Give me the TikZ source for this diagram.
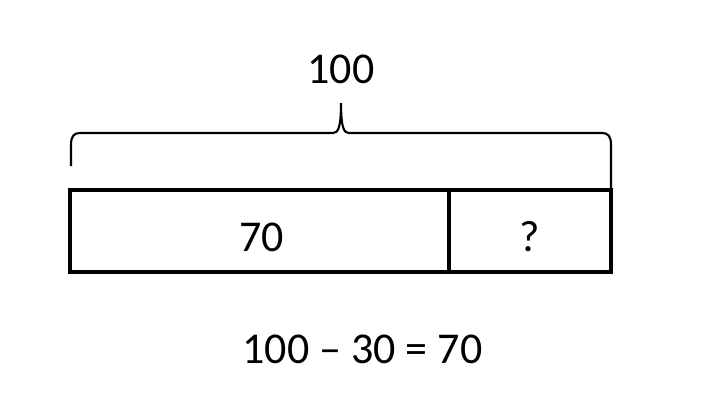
\documentclass[tikz,border=0pt]{standalone}
\usepackage{fontspec}
\setmainfont{Carlito}
\usetikzlibrary{positioning}

\begin{document}
\begin{tikzpicture}[x=0.75pt, y=-0.75pt, font=\fontsize{33}{40}\selectfont,
    bar/.style={draw, line width=2.6pt, inner sep=0pt, outer sep=0pt, minimum height=61.5pt}]
    \useasboundingbox (0,0) rectangle (720,405);
    \node[bar, minimum width=284.25pt, anchor=north west] (W) at (70,190) {};
    \node[bar, minimum width=121.5pt, right=0pt of W] (Q) {};
    \node (W1) at (261.5,237.5) {70};
    \node (Q1) at (529.5,237) {?};
    \coordinate (tip) at (341,103);
    \node[above=11pt of tip] (T) {100};
    \draw[line width=1.6pt] (W.north west) ++(1,-24) -- ++(0,-21)
        .. controls +(0,-9) and +(-6,0) .. (80,133) -- (333,133)
        .. controls +(5,0) and +(0,25) .. (tip)
        .. controls +(0,25) and +(-5,0) .. (349,133) -- (602,133)
        .. controls +(6,0) and +(0,-9) .. (611,145) -- (Q.north east) ++(0,-24);
    \node (S) at (362.5,349.5) {100 – 30 = 70};
\end{tikzpicture}
\end{document}
